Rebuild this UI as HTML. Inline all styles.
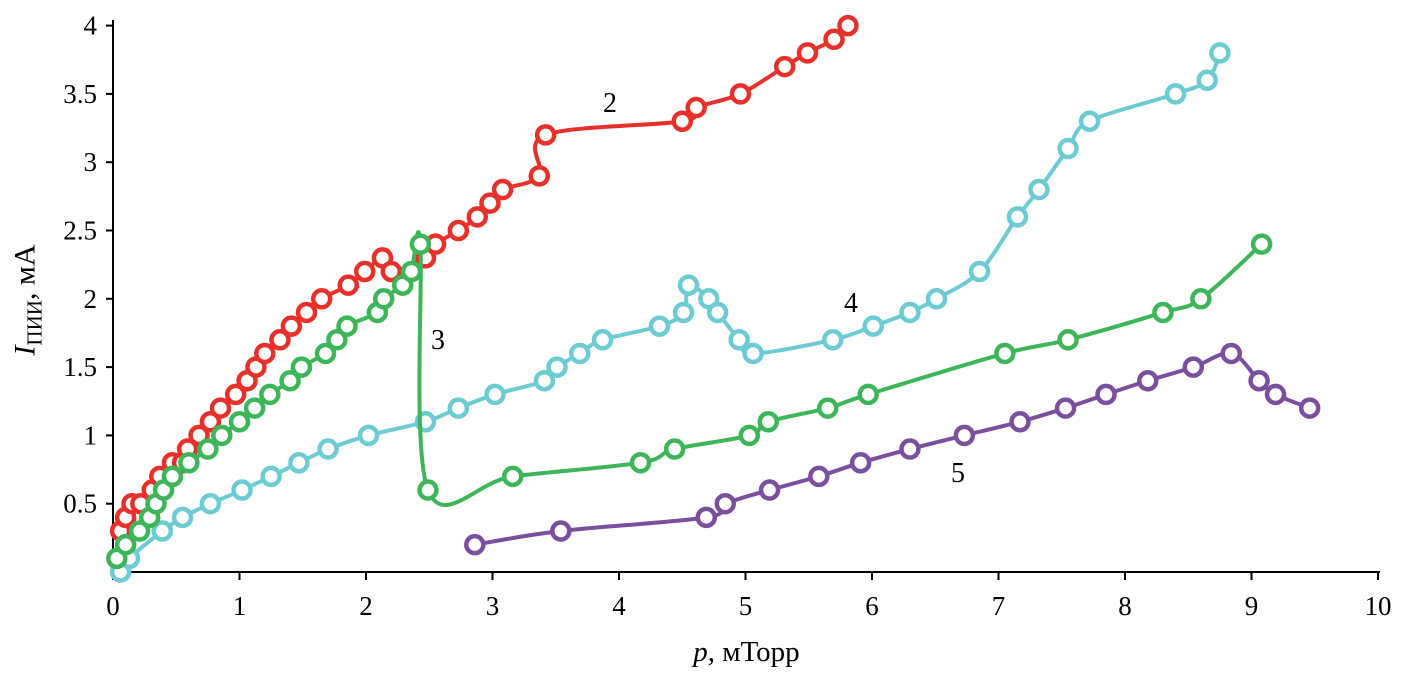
<!DOCTYPE html>
<html><head><meta charset="utf-8"><style>
body{margin:0;background:#fff;}
svg{display:block;font-family:"Liberation Serif",serif;}
</style></head><body>
<svg id="chart" width="1403" height="694" xmlns="http://www.w3.org/2000/svg"></svg>
<script>
const xTicks=[0,1,2,3,4,5,6,7,8,9,10];
const yTicks=[0.5,1,1.5,2,2.5,3,3.5,4];
const yTickLabels=["0.5","1","1.5","2","2.5","3","3.5","4"];
const s2x=[0.06,0.1,0.15,0.22,0.31,0.37,0.47,0.55,0.59,0.68,0.77,0.85,0.97,1.06,1.13,1.2,1.32,1.41,1.53,1.65,1.86,1.99,2.13,2.2,2.47,2.55,2.73,2.88,2.98,3.08,3.37,3.42,4.5,4.61,4.96,5.31,5.49,5.7,5.81];
const s2y=[0.3,0.4,0.5,0.5,0.6,0.7,0.8,0.8,0.9,1.0,1.1,1.2,1.3,1.4,1.5,1.6,1.7,1.8,1.9,2.0,2.1,2.2,2.3,2.2,2.3,2.4,2.5,2.6,2.7,2.8,2.9,3.2,3.3,3.4,3.5,3.7,3.8,3.9,4.0];
const s3x=[0.03,0.1,0.21,0.29,0.34,0.4,0.47,0.6,0.75,0.86,1.0,1.12,1.24,1.4,1.49,1.68,1.77,1.85,2.09,2.14,2.29,2.36,2.43,2.49,3.16,4.17,4.44,5.03,5.18,5.65,5.97,7.05,7.55,8.3,8.6,9.08];
const s3y=[0.1,0.2,0.3,0.4,0.5,0.6,0.7,0.8,0.9,1.0,1.1,1.2,1.3,1.4,1.5,1.6,1.7,1.8,1.9,2.0,2.1,2.2,2.4,0.6,0.7,0.8,0.9,1.0,1.1,1.2,1.3,1.6,1.7,1.9,2.0,2.4];
const s4x=[0.06,0.13,0.39,0.55,0.77,1.02,1.25,1.47,1.7,2.02,2.47,2.73,3.02,3.41,3.51,3.69,3.87,4.32,4.51,4.55,4.71,4.78,4.95,5.06,5.69,6.01,6.3,6.51,6.85,7.15,7.32,7.55,7.72,8.4,8.65,8.75];
const s4y=[0,0.1,0.3,0.4,0.5,0.6,0.7,0.8,0.9,1.0,1.1,1.2,1.3,1.4,1.5,1.6,1.7,1.8,1.9,2.1,2.0,1.9,1.7,1.6,1.7,1.8,1.9,2.0,2.2,2.6,2.8,3.1,3.3,3.5,3.6,3.8];
const s5x=[2.86,3.54,4.69,4.84,5.19,5.58,5.91,6.3,6.73,7.17,7.53,7.85,8.18,8.54,8.84,9.06,9.19,9.46];
const s5y=[0.2,0.3,0.4,0.5,0.6,0.7,0.8,0.9,1.0,1.1,1.2,1.3,1.4,1.5,1.6,1.4,1.3,1.2];

const NS="http://www.w3.org/2000/svg";
const svg=document.getElementById('chart');
const X=v=>113+v*126.5;
const Y=v=>572-v*136.6;
function mk(tag,attrs,parent){const e=document.createElementNS(NS,tag);for(const k in attrs)e.setAttribute(k,attrs[k]);(parent||svg).appendChild(e);return e;}

let ax=mk('line',{x1:113,y1:20,x2:113,y2:572,stroke:'#000','stroke-width':2});


let bx=mk('line',{x1:112,y1:572,x2:1380,y2:572,stroke:'#000','stroke-width':2});


xTicks.forEach(t=>{
  const l=mk('line',{x1:X(t),y1:572,x2:X(t),y2:580,stroke:'#000','stroke-width':2});
  
  
  const tx=mk('text',{x:X(t),y:615,'font-size':27,'text-anchor':'middle'});
  tx.textContent=String(t);
  
  
});
yTicks.forEach((t,i)=>{
  const l=mk('line',{x1:106,y1:Y(t),x2:113,y2:Y(t),stroke:'#000','stroke-width':2});
  
  
  const tx=mk('text',{x:97,y:Y(t)+9,'font-size':27,'text-anchor':'end'});
  tx.textContent=yTickLabels[i];
  
  
});

function smooth(pts){
  let d='M'+pts[0][0]+','+pts[0][1];
  for(let i=0;i<pts.length-1;i++){
    const p0=pts[i-1]||pts[i],p1=pts[i],p2=pts[i+1],p3=pts[i+2]||p2;
    const t=1/6;
    d+=' C'+(p1[0]+(p2[0]-p0[0])*t)+','+(p1[1]+(p2[1]-p0[1])*t)+' '+(p2[0]-(p3[0]-p1[0])*t)+','+(p2[1]-(p3[1]-p1[1])*t)+' '+p2[0]+','+p2[1];
  }
  return d;
}
function series(xs,ys,color,name){
  const g=mk('g',{});
  
  
  const pts=xs.map((x,i)=>[X(x),Y(ys[i])]);
  const p=mk('path',{d:smooth(pts),fill:'none',stroke:color,'stroke-width':4},g);
  
  
  pts.forEach(q=>{
    const c=mk('circle',{cx:q[0],cy:q[1],r:8.5,fill:'#fff',stroke:color,'stroke-width':4.5},g);
    
    
  });
}
series(s2x,s2y,'#e8302a','series-2');
series(s4x,s4y,'#6ccbd3','series-4');
series(s3x,s3y,'#3db659','series-3');
series(s5x,s5y,'#7a4f9e','series-5');

[['2',610,112],['3',438,349],['4',851,312],['5',958,482]].forEach(a=>{
  const t=mk('text',{x:a[1],y:a[2],'font-size':28,'text-anchor':'middle'});
  t.textContent=a[0];
  
  
});
</script>
<div style="position:absolute;left:0;width:1403px;top:636px;text-align:center;padding-left:90px;box-sizing:border-box;font:29px 'Liberation Serif',serif;"><i>p</i>, мТорр</div>
<div style="position:absolute;left:28px;top:300px;transform:translate(-50%,-50%) rotate(-90deg);white-space:nowrap;font:30px 'Liberation Serif',serif;"><i>I</i><sub style="font-size:21px">ПИИ</sub>, мА</div>
</body></html>
